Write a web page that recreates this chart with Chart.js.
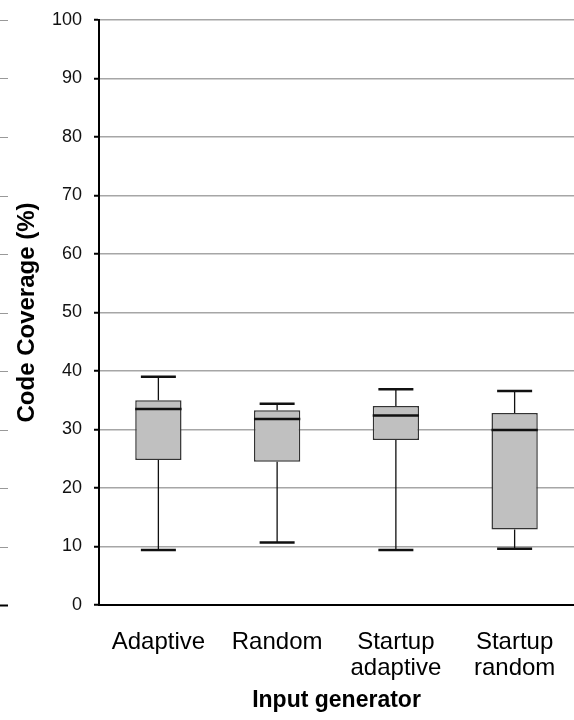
<!DOCTYPE html>
<html>
<head>
<meta charset="utf-8">
<script src="https://cdn.jsdelivr.net/npm/chart.js@4"></script>
<style>
  html, body { margin: 0; padding: 0; background: #fff; }
  #wrap { width: 574px; height: 720px; }
</style>
</head>
<body>
<div id="wrap"><canvas id="boxChart"></canvas></div>
<script>
const categories = [["Adaptive"], ["Random"], ["Startup", "adaptive"], ["Startup", "random"]];
const minValues = [9.4, 10.7, 9.4, 9.6];
const q1Values = [24.8, 24.5, 28.2, 12.9];
const medianValues = [33.5, 31.8, 32.4, 29.9];
const q3Values = [35.0, 33.3, 34.0, 32.8];
const maxValues = [39.0, 34.4, 36.9, 36.6];
const yTicks = [0, 10, 20, 30, 40, 50, 60, 70, 80, 90, 100];

const FONT = "'Liberation Sans', Arial, sans-serif";

// whiskers, caps and medians on top of the floating bars
const whiskerPlugin = {
    id: "whiskers",
    afterDatasetsDraw(chart) {
        const ctx = chart.ctx;
        const x = chart.scales.x;
        const y = chart.scales.y;
        const meta = chart.getDatasetMeta(0);
        ctx.save();
        categories.forEach((c, i) => {
            const cx = x.getPixelForValue(i);
            const boxW = meta.data[i].width;
            const capW = 35;

            ctx.strokeStyle = "#111";
            ctx.lineWidth = 1.3;
            ctx.beginPath();
            ctx.moveTo(cx, y.getPixelForValue(q3Values[i]));
            ctx.lineTo(cx, y.getPixelForValue(maxValues[i]));
            ctx.moveTo(cx, y.getPixelForValue(q1Values[i]));
            ctx.lineTo(cx, y.getPixelForValue(minValues[i]));
            ctx.stroke();

            ctx.lineWidth = 2.5;
            ctx.beginPath();
            [maxValues[i], minValues[i]].forEach(v => {
                const py = y.getPixelForValue(v);
                ctx.moveTo(cx - capW / 2, py);
                ctx.lineTo(cx + capW / 2, py);
            });
            const my = y.getPixelForValue(medianValues[i]);
            ctx.moveTo(cx - boxW / 2, my);
            ctx.lineTo(cx + boxW / 2, my);
            ctx.stroke();
        });
        ctx.restore();
    }
};

// little tick marks from the neighbouring chart at the left edge
const edgeTicks = {
    id: "edgeTicks",
    afterDraw(chart) {
        const ctx = chart.ctx;
        const y = chart.scales.y;
        ctx.save();
        yTicks.forEach(v => {
            const py = Math.round(y.getPixelForValue(v)) + 0.5;
            ctx.strokeStyle = v === 0 ? "#000" : "#999";
            ctx.lineWidth = v === 0 ? 2 : 1;
            ctx.beginPath();
            ctx.moveTo(0, py);
            ctx.lineTo(8, py);
            ctx.stroke();
        });
        ctx.restore();
    }
};

new Chart(document.getElementById("boxChart"), {
    type: "bar",
    data: {
        labels: categories,
        datasets: [{
            data: q1Values.map((q, i) => [q, q3Values[i]]),
            backgroundColor: "#c0c0c0",
            borderColor: "#333",
            borderWidth: 1.5,
            borderSkipped: false,
            categoryPercentage: 1,
            barPercentage: 0.39
        }]
    },
    options: {
        responsive: true,
        maintainAspectRatio: false,
        animation: false,
        layout: { padding: { top: 20, right: 0, left: 0, bottom: 6 } },
        plugins: {
            legend: { display: false },
            tooltip: { enabled: false }
        },
        scales: {
            y: {
                min: 0,
                max: 100,
                afterFit(scale) {
                    scale.width = 99;
                    scale.paddingTop = 0;
                    scale.paddingBottom = 0;
                },
                ticks: {
                    stepSize: 10,
                    color: "#111",
                    padding: 12,
                    font: { family: FONT, size: 18 }
                },
                grid: {
                    color: "#a6a6a6",
                    lineWidth: 1.5,
                    tickColor: "#000",
                    tickLength: 5,
                    tickWidth: 2
                },
                border: { color: "#000", width: 2 },
                title: {
                    display: true,
                    text: "Code Coverage (%)",
                    color: "#000",
                    font: { family: FONT, size: 24, weight: "bold" },
                    padding: { top: 13, bottom: 0 }
                }
            },
            x: {
                afterFit(scale) {
                    scale.height = 109;
                    scale.paddingLeft = 0;
                    scale.paddingRight = 0;
                },
                ticks: {
                    color: "#000",
                    padding: 24,
                    font: { family: FONT, size: 24, lineHeight: 1.1 }
                },
                grid: { display: false, drawTicks: false },
                border: { color: "#000", width: 2 },
                title: {
                    display: true,
                    text: "Input generator",
                    color: "#000",
                    font: { family: FONT, size: 23, weight: "bold" },
                    padding: { top: 0, bottom: 0 }
                }
            }
        }
    },
    plugins: [whiskerPlugin, edgeTicks]
});
</script>
</body>
</html>
